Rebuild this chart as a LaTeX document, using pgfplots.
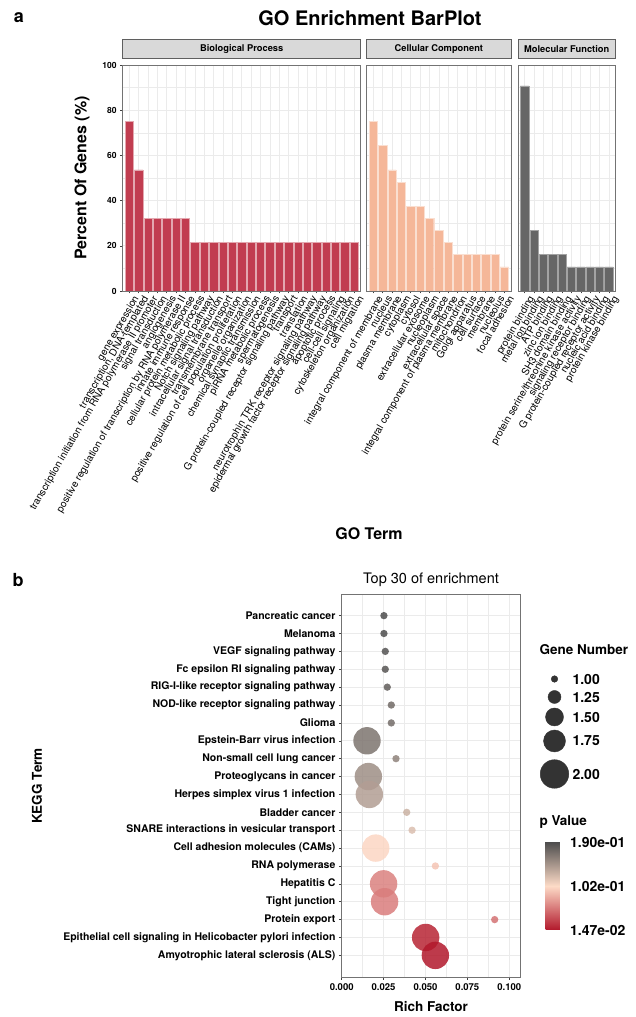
\documentclass[border=0pt]{standalone}
\usepackage{pgfplots}
\pgfplotsset{compat=1.18}
\usepackage{pgfplotstable}
\usepackage{fontspec}
\setmainfont{TeX Gyre Heros}

\definecolor{bpcol}{RGB}{193,61,80}
\definecolor{cccol}{RGB}{245,183,153}
\definecolor{mfcol}{RGB}{102,102,102}
\definecolor{gridc}{RGB}{235,235,235}
\definecolor{bordc}{RGB}{115,115,115}
\definecolor{stripf}{RGB}{217,217,217}
\definecolor{stripd}{RGB}{95,95,95}
\definecolor{legc}{RGB}{51,51,51}

\newcommand{\fs}[1]{\fontsize{#1}{#1}\selectfont}

\pgfplotstableread{
x y p
0.0252 20 0.190
0.0252 19 0.189
0.0260 18 0.186
0.0260 17 0.185
0.0272 16 0.180
0.0296 15 0.172
0.0296 14 0.171
0.0324 12 0.157
0.0388 9 0.128
0.0420 8 0.120
0.0559 6 0.092
0.0913 3 0.055
}\smallpts

\pgfplotstableread{
x y p
0.0151 13 0.166
0.0159 11 0.150
0.0165 10 0.140
0.0203 7 0.100
0.0250 5 0.062
0.0256 4 0.060
0.0501 2 0.020
0.0559 1 0.0147
}\bigpts

\pgfplotsset{
  topfacet/.style={
    scale only axis, ybar, bar width=0.9, ymin=0, ymax=100, height=226pt,
    xmin=0.3, xtick=data, ytick={0,20,40,60,80,100}, minor ytick={10,30,50,70,90},
    grid=both, major grid style={gridc, line width=0.6pt}, minor grid style={gridc, line width=0.35pt},
    axis line style={bordc, line width=0.7pt},
    tick align=outside, xtick pos=left, ytick pos=left, major tick length=2.5pt, minor tick length=0pt,
    tick style={black!75, line width=0.5pt},
    xticklabel style={rotate=60, anchor=north east, font=\fs{10}, inner sep=1pt, xshift=2pt, yshift=-2.5pt},
    yticklabel style={font=\bfseries\fs{8.5}},
    /pgf/number format/assume math mode=true,
    title style={at={(0.5,1)}, anchor=south, yshift=0.4pt, fill=stripf, draw=stripd, line width=0.6pt, minimum height=19pt, inner sep=0pt, font=\bfseries\fs{9.3}},
  },
}

\begin{document}
\begin{tikzpicture}
\useasboundingbox (0,0) rectangle (635pt,1017pt);

% ---------- panel a ----------
\node[font=\bfseries\fs{18}] at (19pt,999pt) {a};
\node[font=\bfseries\fs{20}] at (370pt,999pt) {GO Enrichment BarPlot};
\node[font=\bfseries\fs{16}, rotate=90] at (82pt,839pt) {Percent Of Genes (\%)};
\node[font=\bfseries\fs{16}] at (369pt,483pt) {GO Term};

\begin{axis}[topfacet, at={(122.7pt,726pt)}, anchor=south west, width=238pt, xmax=25.7,
  title={Biological Process}, title style={minimum width=238pt},
  xticklabels={{gene expression},{transcription, DNA-templated},{transcription initiation from RNA polymerase II promoter},{signal transduction},{angiogenesis},{positive regulation of transcription by RNA polymerase II},{innate immune response},{cellular protein metabolic process},{Notch signaling pathway},{intracellular signal transduction},{transmembrane transport},{positive regulation of cell population proliferation},{organelle organization},{chemical synaptic transmission},{piRNA metabolic process},{spermatogenesis},{G protein-coupled receptor signaling pathway},{transport},{translation},{neurotrophin TRK receptor signaling pathway},{epidermal growth factor receptor signaling pathway},{apoptotic process},{cell-cell signaling},{cytoskeleton organization},{cell migration}}]
\addplot[fill=bpcol, draw=white!55!bpcol, line width=0.4pt] coordinates {
(1,75.0) (2,53.6) (3,32.1) (4,32.1) (5,32.1) (6,32.1) (7,32.1) (8,21.4) (9,21.4) (10,21.4)
(11,21.4) (12,21.4) (13,21.4) (14,21.4) (15,21.4) (16,21.4) (17,21.4) (18,21.4) (19,21.4) (20,21.4)
(21,21.4) (22,21.4) (23,21.4) (24,21.4) (25,21.4)};
\end{axis}

\begin{axis}[topfacet, at={(366.7pt,726pt)}, anchor=south west, width=144.3pt, xmax=15.7,
  yticklabels={}, ytick style={draw=none},
  title={Cellular Component}, title style={minimum width=144.3pt},
  xticklabels={{integral component of membrane},{nucleus},{plasma membrane},{cytoplasm},{cytosol},{extracellular exosome},{nucleoplasm},{extracellular space},{integral component of plasma membrane},{mitochondrion},{Golgi apparatus},{cell surface},{membrane},{nucleolus},{focal adhesion}}]
\addplot[fill=cccol, draw=white!55!cccol, line width=0.4pt] coordinates {
(1,75.0) (2,64.3) (3,53.6) (4,48.2) (5,37.5) (6,37.5) (7,32.1) (8,26.8) (9,21.4) (10,16.1)
(11,16.1) (12,16.1) (13,16.1) (14,16.1) (15,10.7)};
\end{axis}

\begin{axis}[topfacet, at={(518pt,726pt)}, anchor=south west, width=97.4pt, xmax=10.7,
  yticklabels={}, ytick style={draw=none},
  title={Molecular Function}, title style={minimum width=97.4pt},
  xticklabels={{protein binding},{metal ion binding},{ATP binding},{zinc ion binding},{SH3 domain binding},{protein serine/threonine kinase activity},{signaling receptor binding},{G protein-coupled receptor activity},{nucleic acid binding},{protein kinase binding}}]
\addplot[fill=mfcol, draw=white!40!mfcol, line width=0.4pt] coordinates {
(1,90.8) (2,26.8) (3,16.1) (4,16.1) (5,16.1) (6,10.7) (7,10.7) (8,10.7) (9,10.7) (10,10.7)};
\end{axis}

% ---------- panel b ----------
\node[font=\bfseries\fs{18}] at (18pt,437pt) {b};
\node[font=\fs{14.5}] at (431pt,437pt) {Top 30 of enrichment};
\node[font=\bfseries\fs{13.5}, rotate=90] at (37pt,231pt) {KEGG Term};
\node[font=\bfseries\fs{13.5}] at (431pt,10pt) {Rich Factor};
\node[font=\bfseries\fs{13.5}, anchor=west] at (536pt,367pt) {Gene Number};
\node[font=\bfseries\fs{13.5}, anchor=west] at (536pt,195pt) {p Value};

\begin{axis}[scale only axis, at={(341.7pt,40pt)}, anchor=south west, width=178.3pt, height=383pt,
  xmin=0, xmax=0.1064, ymin=-0.21, ymax=21.21,
  xtick={0,0.025,0.05,0.075,0.1}, xticklabels={0.000,0.025,0.050,0.075,0.100},
  minor xtick={0.0125,0.0375,0.0625,0.0875},
  ytick={1,...,20},
  yticklabels={{Amyotrophic lateral sclerosis (ALS)},{Epithelial cell signaling in Helicobacter pylori infection},{Protein export},{Tight junction},{Hepatitis C},{RNA polymerase},{Cell adhesion molecules (CAMs)},{SNARE interactions in vesicular transport},{Bladder cancer},{Herpes simplex virus 1 infection},{Proteoglycans in cancer},{Non-small cell lung cancer},{Epstein-Barr virus infection},{Glioma},{NOD-like receptor signaling pathway},{RIG-I-like receptor signaling pathway},{Fc epsilon RI signaling pathway},{VEGF signaling pathway},{Melanoma},{Pancreatic cancer}},
  grid=both, major grid style={gridc, line width=0.6pt}, minor grid style={gridc, line width=0.35pt},
  axis line style={bordc, line width=0.7pt},
  tick align=outside, xtick pos=left, ytick pos=left, major tick length=2.75pt, minor tick length=0pt,
  tick style={black!75, line width=0.5pt},
  xticklabel style={font=\bfseries\fs{9.5}},
  yticklabel style={font=\bfseries\fs{10.5}},
  colormap={pval}{rgb255=(178,24,43) rgb255=(253,219,199) rgb255=(77,77,77)},
  point meta min=0.0147, point meta max=0.19,
  colorbar,
  colorbar style={
    at={(parent axis.south east)}, anchor=south west, xshift=17pt, yshift=47pt,
    scale only axis, width=17pt, height=88pt,
    ytick={0.0147,0.102,0.19}, yticklabels={1.47e-02,1.02e-01,1.90e-01},
    yticklabel style={font=\bfseries\fs{14}, xshift=4pt},
    axis line style={draw=none}, major tick length=0pt,
  },
]
\addplot[scatter, only marks, mark=*, mark size=3.67pt, point meta=explicit,
  scatter/use mapped color={draw opacity=0, fill=mapped color, fill opacity=0.85}]
  table[x=x, y=y, meta=p] {\smallpts};
\addplot[scatter, only marks, mark=*, mark size=13.7pt, point meta=explicit,
  scatter/use mapped color={draw opacity=0, fill=mapped color, fill opacity=0.85}]
  table[x=x, y=y, meta=p] {\bigpts};
\end{axis}

% size legend as a small bare axis
\begin{axis}[scale only axis, at={(540pt,227pt)}, anchor=south west, width=29pt, height=125pt,
  xmin=-1, xmax=1, ymin=227, ymax=352, clip=false,
  axis line style={draw=none}, xtick=\empty, major tick length=0pt,
  ytick={243,276,300,320,338}, yticklabels={2.00,1.75,1.50,1.25,1.00},
  yticklabel pos=right, yticklabel style={font=\bfseries\fs{14}},
]
\addplot[only marks, mark=*, mark size=3.3pt, legc] coordinates {(0,338)};
\addplot[only marks, mark=*, mark size=6.5pt, legc] coordinates {(0,320)};
\addplot[only marks, mark=*, mark size=9pt, legc] coordinates {(0,300)};
\addplot[only marks, mark=*, mark size=11pt, legc] coordinates {(0,276)};
\addplot[only marks, mark=*, mark size=14.3pt, legc] coordinates {(0,243)};
\end{axis}
\end{tikzpicture}
\end{document}
